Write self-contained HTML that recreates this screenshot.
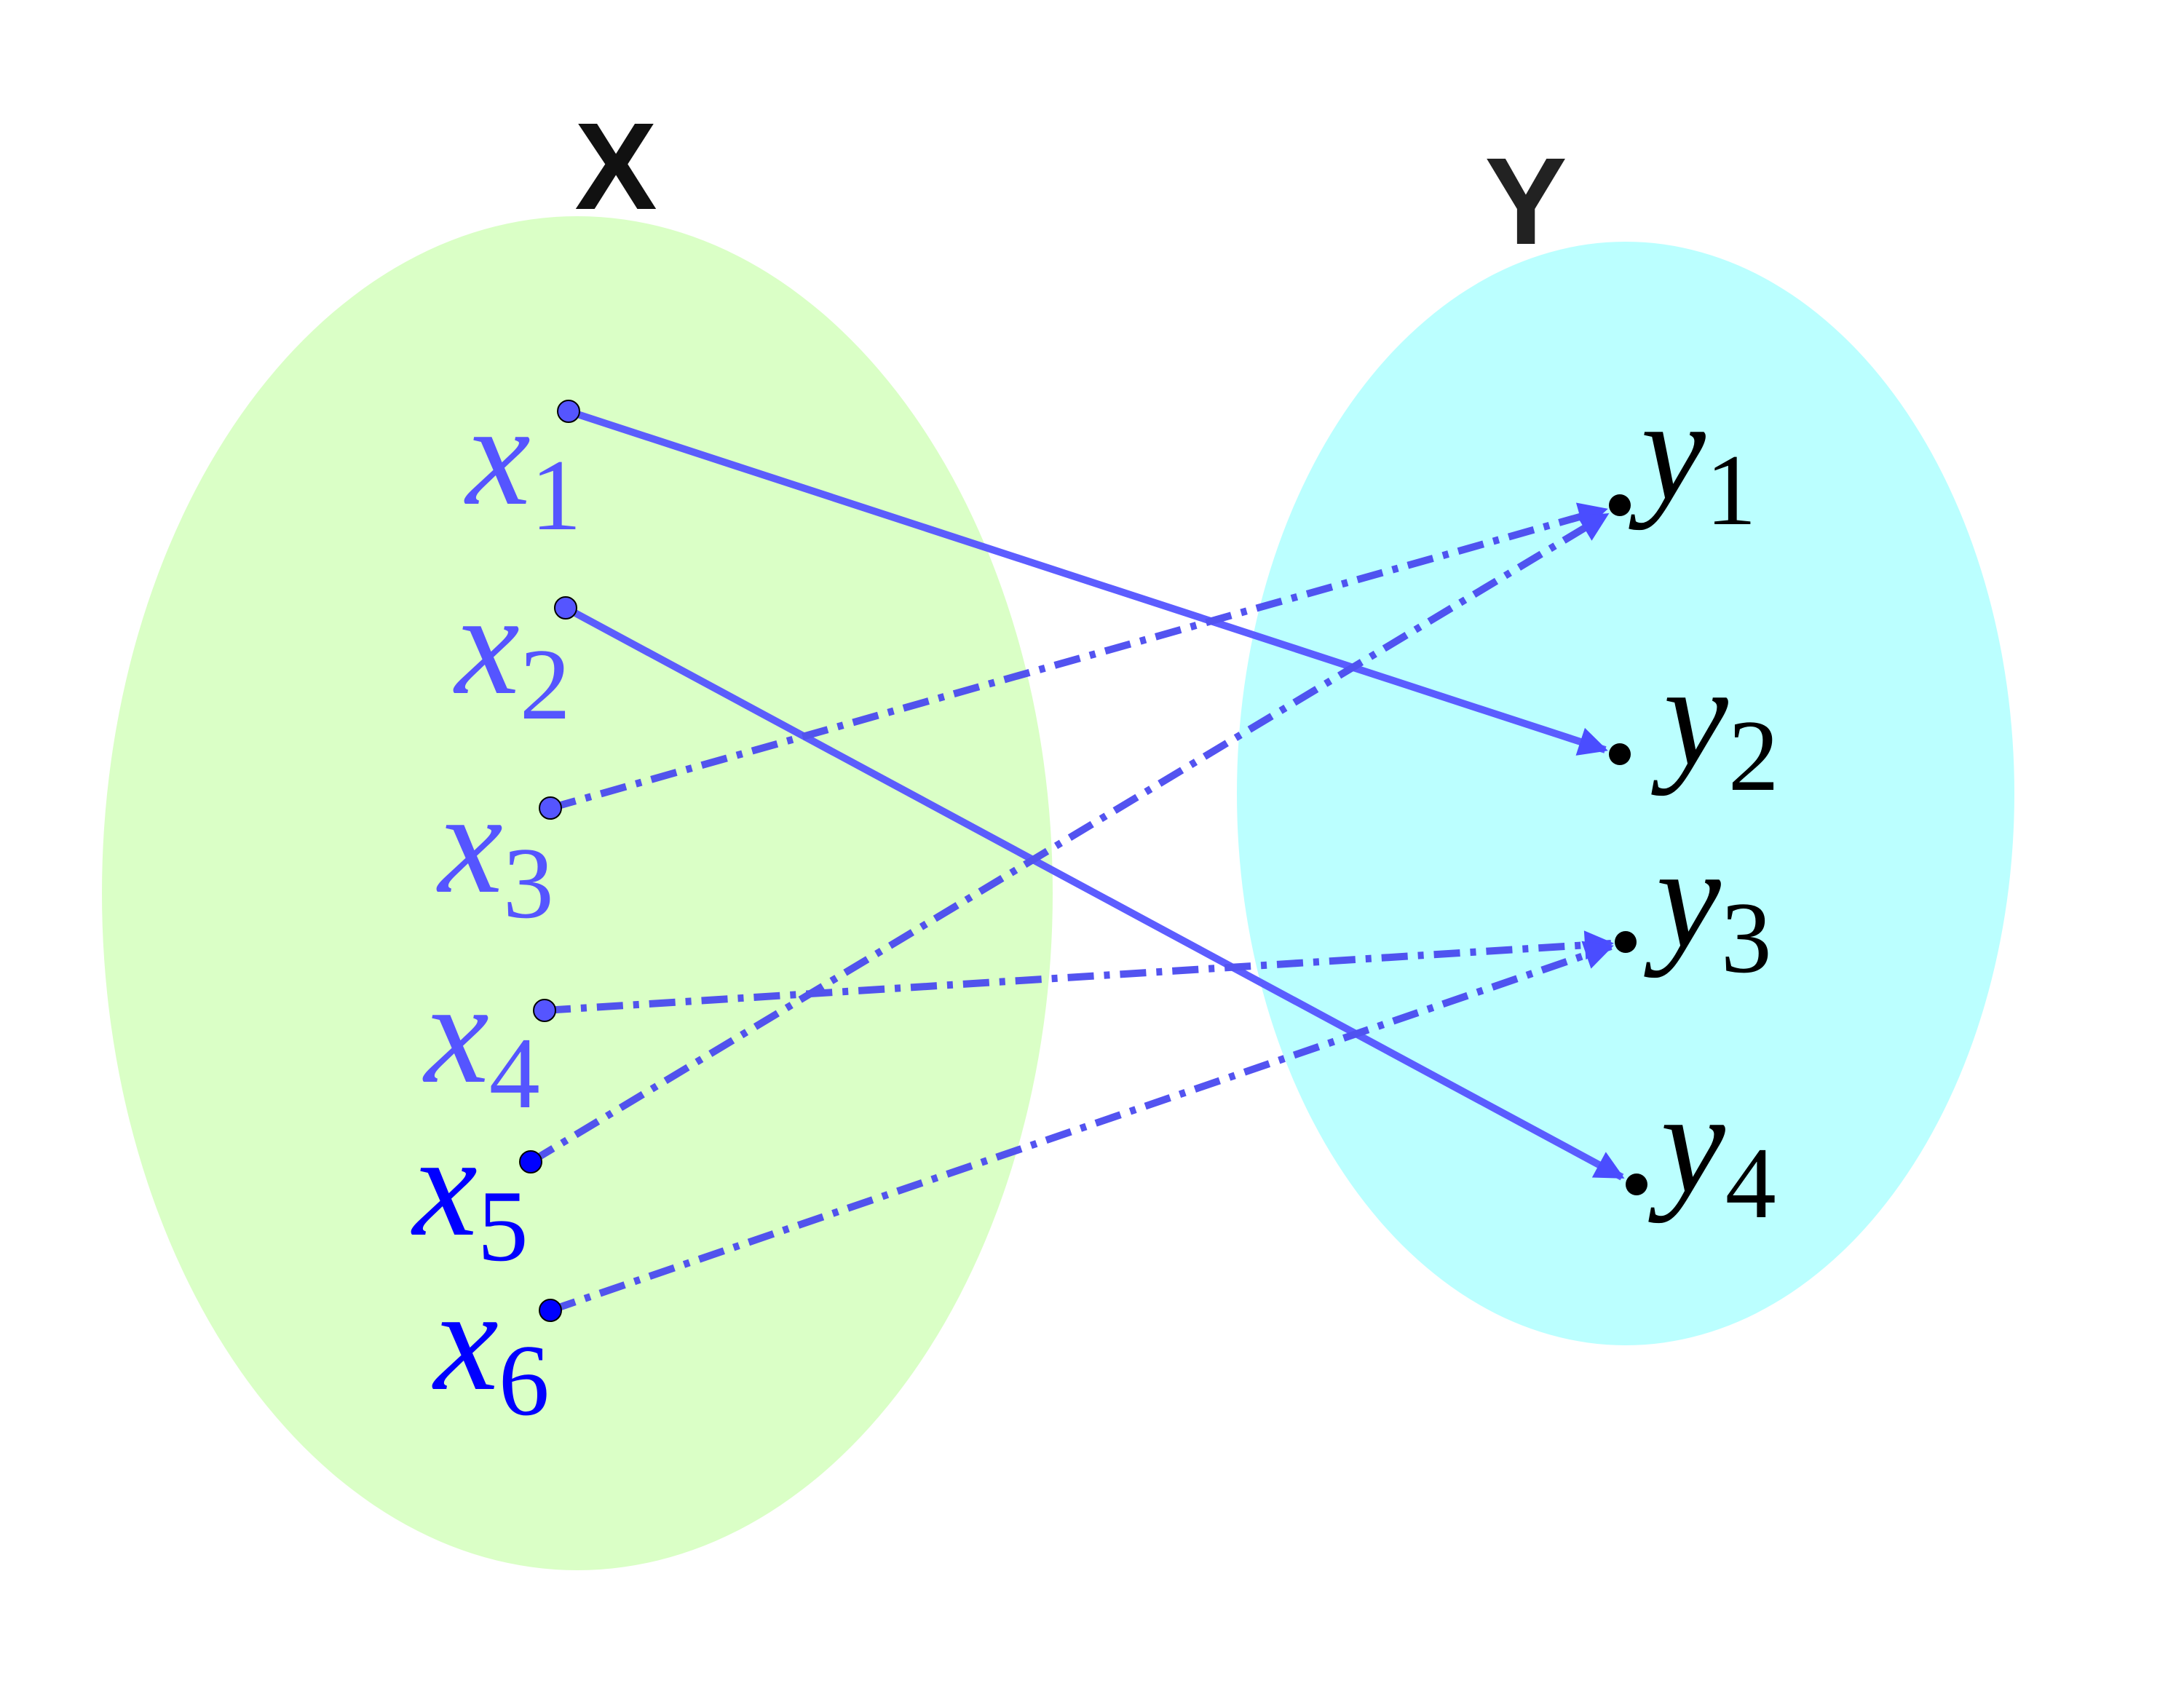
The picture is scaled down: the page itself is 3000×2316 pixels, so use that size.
<!DOCTYPE html>
<html><head><meta charset="utf-8"><style>html,body{margin:0;padding:0;background:#fff}svg{display:block}</style></head>
<body>
<svg width="3000" height="2316" viewBox="0 0 3000 2316" xmlns="http://www.w3.org/2000/svg">
<defs>
<marker id="a" viewBox="0 0 10 10" refX="9" refY="5" markerWidth="5" markerHeight="4" markerUnits="strokeWidth" orient="auto"><path d="M0,0 L10,5 L0,10 Z" fill="#4444ff"/></marker>
</defs>
<ellipse cx="793" cy="1227" rx="653" ry="930" fill="#daffc6"/>
<ellipse cx="2233" cy="1090" rx="534" ry="758" fill="#bbffff"/>
<text x="846" y="287" font-family="Liberation Sans, sans-serif" font-weight="bold" font-size="170" text-anchor="middle" fill="#111">X</text>
<text x="2096" y="335" font-family="Liberation Sans, sans-serif" font-weight="bold" font-size="170" text-anchor="middle" fill="#222">Y</text>
<g stroke="#5555ff" stroke-width="10" fill="none" opacity="0.95">
<line x1="781" y1="565" x2="2205" y2="1030" marker-end="url(#a)"/>
<line x1="777" y1="835" x2="2228" y2="1617" marker-end="url(#a)"/>
<g stroke-dasharray="36 14 8 14" stroke="#4a4af0">
<line x1="756" y1="1110" x2="2205" y2="700" marker-end="url(#a)"/>
<line x1="748" y1="1388" x2="2213" y2="1296" marker-end="url(#a)"/>
<line x1="729" y1="1596" x2="2207" y2="707" marker-end="url(#a)"/>
<line x1="756" y1="1800" x2="2213" y2="1300" marker-end="url(#a)"/>
</g>
</g>
<g stroke="#000" stroke-width="2">
<circle cx="781" cy="565" r="15" fill="#5555ff"/>
<circle cx="777" cy="835" r="15" fill="#5555ff"/>
<circle cx="756" cy="1110" r="15" fill="#5555ff"/>
<circle cx="748" cy="1388" r="15" fill="#5555ff"/>
<circle cx="729" cy="1596" r="15" fill="#0000ff"/>
<circle cx="756" cy="1800" r="15" fill="#0000ff"/>
</g>
<g fill="#000">
<circle cx="2225" cy="694" r="15"/>
<circle cx="2225" cy="1036" r="15"/>
<circle cx="2233" cy="1294" r="15"/>
<circle cx="2248" cy="1627" r="15"/>
</g>
<g font-family="Liberation Serif, serif" font-size="200">
<g fill="#5555ff">
<text x="640" y="692" font-style="italic">x<tspan font-style="normal" font-size="140" dy="35">1</tspan></text>
<text x="625" y="952" font-style="italic">x<tspan font-style="normal" font-size="140" dy="35">2</tspan></text>
<text x="602" y="1225" font-style="italic">x<tspan font-style="normal" font-size="140" dy="35">3</tspan></text>
<text x="583" y="1486" font-style="italic">x<tspan font-style="normal" font-size="140" dy="35">4</tspan></text>
</g>
<g fill="#0000ff">
<text x="567" y="1696" font-style="italic">x<tspan font-style="normal" font-size="140" dy="35">5</tspan></text>
<text x="596" y="1908" font-style="italic">x<tspan font-style="normal" font-size="140" dy="35">6</tspan></text>
</g>
<g fill="#000">
<text x="2254" y="685" font-style="italic">y<tspan font-style="normal" font-size="140" dy="35">1</tspan></text>
<text x="2285" y="1050" font-style="italic">y<tspan font-style="normal" font-size="140" dy="35">2</tspan></text>
<text x="2275" y="1300" font-style="italic">y<tspan font-style="normal" font-size="140" dy="35">3</tspan></text>
<text x="2281" y="1637" font-style="italic">y<tspan font-style="normal" font-size="140" dy="35">4</tspan></text>
</g>
</g>
</svg>
</body></html>
